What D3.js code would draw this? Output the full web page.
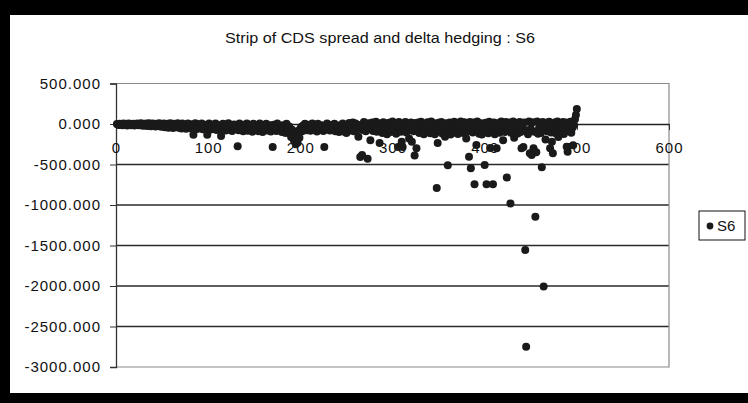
<!DOCTYPE html>
<html lang="en">
<head>
  <meta charset="UTF-8">
  <title>Strip of CDS spread and delta hedging : S6</title>
  <script src="https://d3js.org/d3.v7.min.js"></script>
  <style>
    body { margin: 0; background: #fff; }
    text { font-family: "Liberation Sans", Arial, sans-serif; fill: #111; }
    .tick-label { font-size: 15px; letter-spacing: 1px; }
  </style>
</head>
<body>
<div id="chart"></div>
<script>
// series S6: one value per observation (x = 1..500)
const seriesName = "S6";
const s6Values = [
  0,-5,-12,3,-8,-2,-15,5,-6,-10,2,-18,-4,6,-9,-14,0,-7,4,-20,-3,-11,7,-6,-16,
  -2,8,-13,-22,3,-7,-17,5,-25,-4,9,-12,-28,-1,6,-19,-9,-30,4,-14,-6,10,-24,-35,-3,
  -18,7,-40,-8,-27,3,-45,-12,8,-33,-20,-50,2,-10,-38,-5,9,-47,-22,-14,-55,5,-30,-42,-8,
  -60,-16,6,-36,-52,-4,-26,-58,-132,-12,8,-44,-62,-20,-3,-50,-35,7,-65,-28,-10,-55,-40,-132,-18,
  5,-70,-30,-48,-8,-62,-22,6,-75,-38,-14,-58,-45,-148,-25,4,-68,-34,-80,-12,-52,8,-72,-40,-20,
  -85,-30,-6,-60,-48,-15,-275,-78,5,-42,-66,-24,-90,-10,-55,-36,7,-82,-46,-18,-70,-28,-95,3,-58,
  -38,-74,-12,-88,-50,6,-64,-30,-98,-20,-56,-44,4,-80,-34,-70,-16,-92,-52,-284,-8,-62,-40,-86,5,
  -48,-26,-78,-60,-100,-14,-68,-42,-110,2,-54,-88,-32,-120,-160,-72,-140,-200,-96,-250,-130,-230,-84,-170,-58,
  -36,-90,-18,-66,4,-50,-76,-28,-60,-8,-82,-44,6,-70,-24,-56,-38,-92,2,-62,-30,-74,-14,-48,-86,
  -284,-40,-66,5,-20,-58,-80,-34,-12,-70,-52,3,-88,-26,-64,-44,-100,-16,-76,-56,7,-94,-36,-68,-110,
  -22,-64,12,-80,-6,-46,20,-90,-40,5,-72,-28,-156,-56,-407,-8,-383,-75,25,-52,-90,-30,-428,10,-65,
  -200,-40,18,-85,-20,-60,28,-95,-35,8,-235,-70,-12,-110,22,-50,-82,0,-125,-30,15,-66,-100,-18,30,
  -45,-88,10,-120,-26,-284,24,-70,-96,-218,-284,-15,-58,26,-105,-40,5,-180,-75,20,-218,-48,-90,-390,12,
  -300,-62,18,-110,-35,28,-85,-20,-128,4,-72,-50,22,-98,-12,-115,30,-60,-88,8,-125,-42,-790,-235,15,
  -55,-90,25,-118,-30,-76,-156,10,-100,-510,-45,20,-130,-68,-8,-108,28,-82,-50,12,-122,-38,-95,30,-70,
  -15,-112,22,-60,-180,5,-88,-403,26,-547,-44,-104,18,-745,-66,-260,30,-92,-120,-25,8,-130,-78,-40,-506,
  15,-745,-62,-115,28,-296,-50,-95,-745,20,-128,-70,-300,-30,12,-108,-84,32,-56,-200,-10,-98,25,-660,-72,
  -40,18,-980,-110,-66,30,-170,-22,-88,10,-118,-55,26,-100,-300,-35,-284,20,-1556,-2750,-80,-125,32,-360,-60,
  -383,22,-300,-95,-1144,-350,30,-120,-48,-10,-112,-535,25,-2005,-70,-190,15,-90,-40,28,-300,-105,-218,-362,-60,
  20,-115,-45,30,-160,-70,10,-100,-58,26,-122,-30,18,-280,-342,-85,-20,28,-108,-50,-263,-15,60,110,185
];
const xTicks = [0, 100, 200, 300, 400, 500, 600];
const yTicks = [500, 0, -500, -1000, -1500, -2000, -2500, -3000];

const width = 748;
const height = 403;

const svg = d3.select("#chart")
  .append("svg")
  .attr("width", width)
  .attr("height", height);

svg.append("rect").attr("width", width).attr("height", height).attr("fill", "#fff");

// black frame round the picture
svg.append("rect").attr("x", 0).attr("y", 0).attr("width", width).attr("height", 15).attr("fill", "#000");
svg.append("rect").attr("x", 0).attr("y", 0).attr("width", 10).attr("height", height).attr("fill", "#000");
svg.append("rect").attr("x", 0).attr("y", 393).attr("width", width).attr("height", 10).attr("fill", "#000");

const x = d3.scaleLinear().domain([0, 600]).range([116, 669]);
const y = d3.scaleLinear().domain([-3000, 500]).range([367, 83.5]);

// Excel style labels with a plain hyphen for negatives
const fmt3 = d => d3.format(".3f")(d).replace("\u2212", "-");

// title
svg.append("text")
  .attr("x", 380)
  .attr("y", 43)
  .attr("text-anchor", "middle")
  .attr("font-size", 15)
  .attr("textLength", 310)
  .attr("lengthAdjust", "spacingAndGlyphs")
  .text("Strip of CDS spread and delta hedging : S6");

// gridlines
svg.selectAll(".grid")
  .data(yTicks.filter(v => v < 500 && v > -3000 && v !== 0))
  .enter()
  .append("line")
  .attr("x1", x(0)).attr("x2", x(600))
  .attr("y1", d => y(d)).attr("y2", d => y(d))
  .attr("stroke", "#2a2a2a")
  .attr("stroke-width", 1.5);

// plot area border (top, right, bottom)
svg.append("path")
  .attr("d", `M${x(0)},${y(500)}H${x(600)}V${y(-3000)}H${x(0)}`)
  .attr("fill", "none")
  .attr("stroke", "#8a8a8a")
  .attr("stroke-width", 1.2);

// y axis
const yAxis = svg.append("g")
  .attr("transform", `translate(${x(0)},0)`)
  .call(d3.axisLeft(y).tickValues(yTicks).tickSize(6).tickPadding(9).tickFormat(fmt3));
yAxis.select(".domain").attr("stroke", "#333").attr("stroke-width", 1.3);
yAxis.selectAll(".tick line").attr("stroke", "#333");
yAxis.selectAll("text")
  .attr("class", "tick-label")
  .attr("font-family", null)
  .attr("font-size", null)
  .attr("fill", "#111");

// x axis at y = 0
const xAxis = svg.append("g")
  .attr("transform", `translate(0,${y(0)})`)
  .call(d3.axisBottom(x).tickValues(xTicks).tickSize(6).tickPadding(12).tickSizeOuter(0));
xAxis.select(".domain").attr("stroke", "#222").attr("stroke-width", 1.5);
xAxis.selectAll(".tick line").attr("stroke", "#333");
xAxis.selectAll("text")
  .attr("class", "tick-label")
  .attr("font-family", null)
  .attr("font-size", null)
  .attr("fill", "#111");

// points
svg.append("g")
  .selectAll("circle")
  .data(s6Values)
  .enter()
  .append("circle")
  .attr("cx", (d, i) => x(i + 1))
  .attr("cy", d => y(d))
  .attr("r", 4)
  .attr("fill", "#1a1a1a");

// legend
const legend = svg.append("g").attr("transform", "translate(699,211)");
legend.append("rect")
  .attr("width", 46)
  .attr("height", 29)
  .attr("fill", "#fff")
  .attr("stroke", "#111");
legend.append("circle")
  .attr("cx", 11)
  .attr("cy", 15)
  .attr("r", 3.4)
  .attr("fill", "#1a1a1a");
legend.append("text")
  .attr("x", 18)
  .attr("y", 20)
  .attr("font-size", 15)
  .text(seriesName);
</script>
</body>
</html>
